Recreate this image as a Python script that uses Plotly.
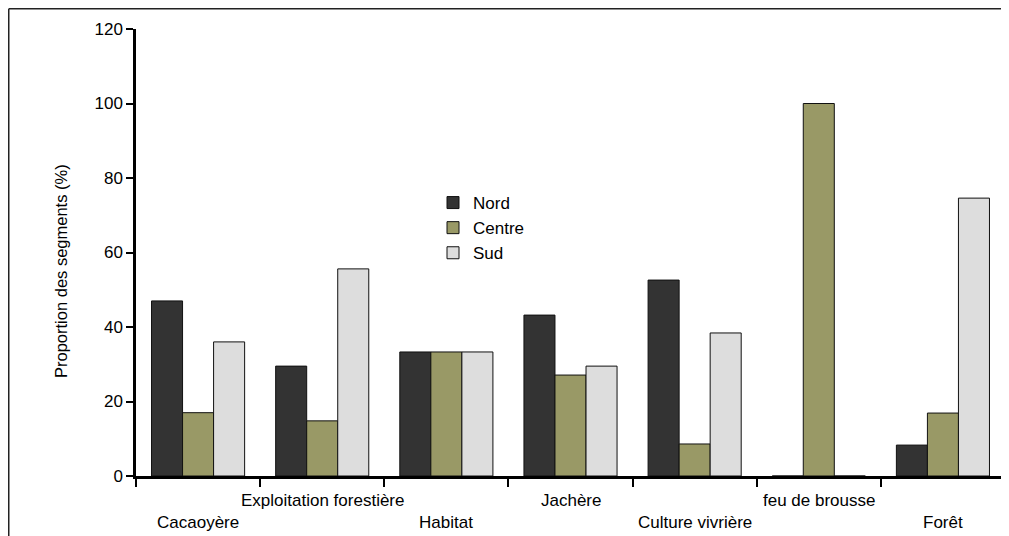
import plotly.graph_objects as go

categories = ["Cacaoyère", "Exploitation forestière", "Habitat", "Jachère",
              "Culture vivrière", "feu de brousse", "Forêt"]
nord = [47, 29.5, 33.3, 43.2, 52.6, 0, 8.3]
centre = [17, 14.8, 33.3, 27.1, 8.6, 100, 16.9]
sud = [36, 55.6, 33.3, 29.5, 38.4, 0, 74.6]
series_names = ["Nord", "Centre", "Sud"]
series_colors = ["#333333", "#999966", "#dddddd"]
y_ticks = [0, 20, 40, 60, 80, 100, 120]

# page body has an 8px margin, so the figure is placed at (8, 8)
W, H = 1001, 528
L, R, T, B = 128, 4, 21, 60
pw, ph = W - L - R, H - T - B

FONT = "Liberation Sans, Arial, sans-serif"
FS = 17

fig = go.Figure()
for name, vals, col in zip(series_names, [nord, centre, sud], series_colors):
    fig.add_trace(go.Bar(
        x=categories, y=vals, name=name, legendgroup=name,
        marker=dict(color=col, line=dict(color="#111111", width=1)),
    ))

annotations = []
for i, c in enumerate(categories):
    annotations.append(dict(
        x=c, y=0, xref="x", yref="y", text=c, showarrow=False,
        yanchor="middle", xanchor="center",
        yshift=-24 if i % 2 == 1 else -46,
        font=dict(size=FS, color="black", family=FONT),
    ))
annotations.append(dict(
    x=(53 - L) / pw, y=(H - B - 263) / ph, xref="paper", yref="paper",
    text="Proportion des segments (%)", showarrow=False, textangle=-90,
    xanchor="center", yanchor="middle",
    font=dict(size=16.5, color="black", family=FONT),
))

# outer frame (top and left edges visible)
bx = (0.75 - L) / pw
by = (H - B - 0.75) / ph
shapes = [
    dict(type="line", xref="paper", yref="paper", x0=bx, x1=(W + 5 - L) / pw,
         y0=by, y1=by, line=dict(color="#222222", width=1.5)),
    dict(type="line", xref="paper", yref="paper", x0=bx, x1=bx,
         y0=by, y1=(H - B - H - 5) / ph, line=dict(color="#222222", width=1.5)),
]

fig.update_layout(
    width=W, height=H,
    margin=dict(l=L, r=R, t=T, b=B, autoexpand=False),
    paper_bgcolor="white", plot_bgcolor="white",
    barmode="group", bargap=0.25, bargroupgap=0,
    font=dict(family=FONT, size=FS, color="black"),
    showlegend=True,
    legend=dict(x=(425 - L) / pw, y=(H - B - 177) / ph, xanchor="left", yanchor="top",
                bgcolor="rgba(0,0,0,0)", font=dict(size=FS, family=FONT),
                tracegroupgap=0),
    annotations=annotations,
    shapes=shapes,
    xaxis=dict(type="category", range=[-0.5, 6.5], showticklabels=False,
               ticks="outside", tickson="boundaries", ticklen=8, tickwidth=2,
               tickcolor="black", showline=True, linecolor="black", linewidth=2.5,
               showgrid=False, zeroline=False, fixedrange=True),
    yaxis=dict(range=[0, 120], tickvals=y_ticks, ticks="outside", ticklen=7,
               tickwidth=2, tickcolor="black", showline=True, linecolor="black",
               linewidth=2.5, showgrid=False, zeroline=False,
               tickfont=dict(size=FS, color="black", family=FONT)),
)

fig.write_html("out.html")
